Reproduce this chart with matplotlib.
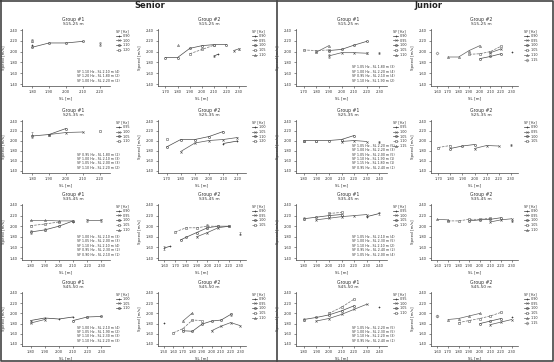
import matplotlib
matplotlib.use("Agg")
import matplotlib.pyplot as plt
import numpy as np
from matplotlib.lines import Line2D

# ---------------- data ----------------
YTICKS = [1.40, 1.60, 1.80, 2.00, 2.20, 2.40]
ROW_SUBS = ["S15-25 m", "S25-35 m", "S35-45 m", "S45-50 m"]

# Senior, row 1
S1_TITLE = "Group #1"
S1_XTICKS = [1.80, 1.90, 2.00, 2.10, 2.20]
S1_SF = ["0.90", "1.00", "1.10", "1.20"]
S1_X = [[1.80], [2.20], [1.80, 1.90, 2.00, 2.10], [1.80]]
S1_Y = [[2.12], [2.14], [2.08, 2.16, 2.16, 2.19], [2.20]]
S1_NOTES = ["SF 1.10 Hz - SL 2.10 m (4)", "SF 1.20 Hz - SL 1.80 m (2)", "SF 1.00 Hz - SL 2.20 m (2)"]
S1_ERR = [(1.80, 2.20, 0.03), (2.20, 2.14, 0.03)]

S2_TITLE = "Group #2"
S2_XTICKS = [1.70, 1.80, 1.90, 2.00, 2.10, 2.20, 2.30]
S2_SF = ["0.90", "0.95", "1.00", "1.05", "1.10"]
S2_X = [[2.10, 2.13], [2.26, 2.30], [1.70, 1.80, 1.90, 2.00, 2.10, 2.20], [1.90, 2.00, 2.10], [1.80]]
S2_Y = [[1.92, 1.95], [2.02, 2.05], [1.89, 1.89, 2.06, 2.11, 2.13, 2.13], [1.96, 2.04, 2.12], [2.13]]
S2_NOTES = []
S2_ERR = [(2.10, 1.92, 0.02), (2.30, 2.05, 0.02)]

# Senior, row 2
S3_TITLE = "Group #1"
S3_XTICKS = [1.80, 1.90, 2.00, 2.10, 2.20]
S3_SF = ["0.95", "1.00", "1.05", "1.10"]
S3_X = [[1.80], [1.90, 2.00, 2.10], [1.80, 1.90, 2.00], [2.20]]
S3_Y = [[2.12], [2.13, 2.17, 2.18], [2.10, 2.13, 2.25], [2.20]]
S3_NOTES = ["SF 0.95 Hz - SL 1.80 m (2)", "SF 1.00 Hz - SL 2.10 m (3)", "SF 1.05 Hz - SL 2.00 m (3)", "SF 1.10 Hz - SL 2.20 m (2)"]
S3_ERR = [(1.80, 2.12, 0.06)]

S4_TITLE = "Group #2"
S4_XTICKS = [1.70, 1.80, 1.90, 2.00, 2.10, 2.20]
S4_SF = ["1.00", "1.05", "1.10", "1.20"]
S4_X = [[2.10, 2.20], [1.80, 1.90, 2.00, 2.10, 2.20], [1.70, 1.80, 1.90, 2.00, 2.10], [1.70]]
S4_Y = [[1.95, 2.00], [1.79, 1.96, 2.01, 2.03, 2.07], [1.88, 2.03, 2.03, 2.09, 2.19], [2.04]]
S4_NOTES = []
S4_ERR = []

# Senior, row 3
S5_TITLE = "Group #1"
S5_XTICKS = [1.80, 1.90, 2.00, 2.10, 2.20, 2.30]
S5_SF = ["0.90", "0.95", "1.00", "1.05", "1.10"]
S5_X = [[2.10], [2.20, 2.30], [1.80, 1.90, 2.00, 2.10], [1.80, 1.90, 2.00], [1.80, 1.90, 2.00, 2.10]]
S5_Y = [[2.08], [2.11, 2.11], [1.89, 1.93, 2.00, 2.10], [2.01, 2.04, 2.08], [2.11, 2.11, 2.10, 2.10]]
S5_NOTES = ["SF 1.00 Hz - SL 2.10 m (3)", "SF 1.05 Hz - SL 2.00 m (3)", "SF 1.10 Hz - SL 2.10 m (4)",
            "SF 0.95 Hz - SL 2.30 m (2)", "SF 0.90 Hz - SL 2.10 m (1)"]
S5_ERR = [(1.80, 1.89, 0.04), (1.90, 1.93, 0.03), (2.20, 2.11, 0.03), (2.30, 2.11, 0.03)]

S6_TITLE = "Group #2"
S6_XTICKS = [1.60, 1.70, 1.80, 1.90, 2.00, 2.10, 2.20, 2.30]
S6_SF = ["0.90", "0.95", "1.00", "1.05"]
S6_X = [[1.60, 1.65, np.nan, 2.30], [1.90, 2.00, 2.10, 2.20], [1.75, 1.80, 1.90, 2.00, 2.10, 2.20],
        [1.70, 1.80, 1.90, 2.00, 2.10]]
S6_Y = [[1.59, 1.62, np.nan, 1.86], [1.80, 1.88, 1.97, 2.00], [1.74, 1.79, 1.88, 1.97, 2.00, 2.00],
        [1.89, 1.97, 1.97, 2.00, 2.00]]
S6_NOTES = []
S6_ERR = [(1.60, 1.59, 0.03), (2.00, 2.00, 0.05), (2.30, 1.86, 0.03)]

# Senior, row 4
S7_TITLE = "Group #1"
S7_XTICKS = [1.80, 1.90, 2.00, 2.10, 2.20, 2.30]
S7_SF = ["1.00", "1.05", "1.10"]
S7_X = [[1.80, 1.90, 2.00, 2.10], [1.80, 1.90], [2.10, 2.20, 2.30]]
S7_Y = [[1.86, 1.91, 1.89, 1.93], [1.81, 1.88], [1.86, 1.93, 1.94]]
S7_NOTES = ["SF 1.00 Hz - SL 2.10 m (4)", "SF 1.05 Hz - SL 1.90 m (2)", "SF 1.10 Hz - SL 2.30 m (3)",
            "SF 1.10 Hz - SL 2.20 m (3)"]
S7_ERR = [(1.80, 1.84, 0.03), (2.20, 1.93, 0.02)]

S8_TITLE = "Group #2"
S8_XTICKS = [1.50, 1.60, 1.70, 1.80, 1.90, 2.00, 2.10, 2.20, 2.30]
S8_SF = ["0.90", "0.95", "1.00", "1.05", "1.10"]
S8_X = [[1.50], [2.00, 2.10, 2.20, 2.30], [1.70, 1.80, 1.90, 2.00, 2.10, 2.20],
        [1.60, 1.70, 1.80, 1.90], [1.70, 1.80]]
S8_Y = [[1.81], [1.66, 1.75, 1.82, 1.76], [1.66, 1.65, 1.79, 1.85, 1.87, 1.98],
        [1.62, 1.70, 1.87, 1.86], [1.85, 2.01]]
S8_NOTES = []
S8_ERR = [(2.20, 1.98, 0.03)]

# Junior, row 1
J1_TITLE = "Group #1"
J1_XTICKS = [1.70, 1.80, 1.90, 2.00, 2.10, 2.20, 2.30]
J1_SF = ["0.90", "0.95", "1.00", "1.05", "1.10"]
J1_X = [[2.30], [1.90, 2.00, 2.10, 2.20], [1.90, 2.00, 2.10, 2.20], [1.70, 1.80, 1.90], [1.80, 1.90]]
J1_Y = [[1.98], [1.92, 1.98, 1.98, 1.97], [2.02, 2.04, 2.12, 2.19], [2.03, 2.02, 2.03], [1.99, 2.11]]
J1_NOTES = ["SF 1.05 Hz - SL 1.80 m (3)", "SF 1.00 Hz - SL 2.20 m (4)", "SF 0.95 Hz - SL 2.10 m (4)",
            "SF 1.10 Hz - SL 1.90 m (2)"]
J1_ERR = [(1.90, 1.92, 0.03), (2.20, 1.97, 0.02), (2.30, 1.98, 0.02)]

J2_TITLE = "Group #2"
J2_XTICKS = [1.60, 1.70, 1.80, 1.90, 2.00, 2.10, 2.20, 2.30]
J2_SF = ["0.90", "0.95", "1.00", "1.05", "1.10", "1.15"]
J2_X = [[2.30], [2.10, 2.20], [2.00, 2.10, 2.20], [1.90, 2.00, 2.10, 2.20], [1.70, 1.80, 1.90, 2.00], [1.60]]
J2_Y = [[2.00], [1.98, 2.05], [1.87, 1.91, 1.96], [1.95, 1.96, 2.00, 2.10], [1.90, 1.90, 2.02, 2.11], [1.97]]
J2_NOTES = []
J2_ERR = []

# Junior, row 2
J3_TITLE = "Group #1"
J3_XTICKS = [1.80, 1.90, 2.00, 2.10, 2.20, 2.30, 2.40]
J3_SF = ["0.95", "1.00", "1.05", "1.10", "1.15"]
J3_X = [[2.40], [2.10, 2.20, 2.30], [1.80, 1.90, 2.00, 2.10, 2.20], [1.90], [1.80]]
J3_Y = [[1.99], [1.99, 2.01, 1.99], [2.01, 2.01, 2.01, 2.03, 2.11], [2.00], [2.01]]
J3_NOTES = ["SF 1.05 Hz - SL 2.20 m (5)", "SF 1.00 Hz - SL 2.20 m (3)", "SF 1.05 Hz - SL 2.00 m (5)",
            "SF 1.10 Hz - SL 1.90 m (1)", "SF 1.15 Hz - SL 1.80 m (1)", "SF 0.95 Hz - SL 2.40 m (1)"]
J3_ERR = [(2.40, 1.99, 0.02)]

J4_TITLE = "Group #2"
J4_XTICKS = [1.70, 1.80, 1.90, 2.00, 2.10, 2.20, 2.30]
J4_SF = ["0.90", "0.95", "1.00", "1.05"]
J4_X = [[2.30], [2.00, 2.10, 2.20], [1.80, 1.90, 2.00], [1.70, 1.80]]
J4_Y = [[1.93], [1.85, 1.91, 1.90], [1.85, 1.90, 1.93], [1.87, 1.91]]
J4_NOTES = []
J4_ERR = [(2.30, 1.93, 0.02)]

# Junior, row 3
J5_TITLE = "Group #1"
J5_XTICKS = [1.80, 1.90, 2.00, 2.10, 2.20, 2.30, 2.40]
J5_SF = ["0.95", "1.00", "1.05", "1.10"]
J5_X = [[2.30, 2.40], [1.90, 2.00, 2.10, 2.20, 2.30], [1.80, 1.90, 2.00, 2.10], [2.00, 2.10]]
J5_Y = [[2.18, 2.24], [2.12, 2.15, 2.18, 2.20, 2.22], [2.14, 2.17, 2.20, 2.22], [2.24, 2.26]]
J5_NOTES = ["SF 1.05 Hz - SL 2.10 m (4)", "SF 1.00 Hz - SL 2.30 m (5)", "SF 1.10 Hz - SL 2.10 m (2)",
            "SF 0.95 Hz - SL 2.40 m (2)", "SF 1.05 Hz - SL 2.00 m (4)"]
J5_ERR = [(1.80, 2.14, 0.03), (2.40, 2.24, 0.03)]

J6_TITLE = "Group #2"
J6_XTICKS = [1.60, 1.70, 1.80, 1.90, 2.00, 2.10, 2.20, 2.30]
J6_SF = ["0.90", "0.95", "1.00", "1.05", "1.10"]
J6_X = [[2.30], [2.10, 2.20, 2.30], [1.90, 2.00, 2.10, 2.20], [1.70, 1.80, 1.90, 2.00, 2.10], [1.60, 1.70]]
J6_Y = [[2.10], [2.08, 2.12, 2.14], [2.10, 2.12, 2.13, 2.16], [2.10, 2.10, 2.13, 2.13, 2.15], [2.13, 2.12]]
J6_NOTES = []
J6_ERR = [(2.30, 2.10, 0.02)]

# Junior, row 4
J7_TITLE = "Group #1"
J7_XTICKS = [1.80, 1.90, 2.00, 2.10, 2.20, 2.30, 2.40]
J7_SF = ["0.95", "1.00", "1.05", "1.10"]
J7_X = [[2.40], [1.90, 2.00, 2.10, 2.20, 2.30], [1.80, 1.90, 2.00, 2.10, 2.20], [2.00, 2.10, 2.20]]
J7_Y = [[2.12], [1.85, 1.90, 1.98, 2.08, 2.18], [1.88, 1.92, 1.97, 2.05, 2.15], [2.00, 2.12, 2.28]]
J7_NOTES = ["SF 1.05 Hz - SL 2.20 m (5)", "SF 1.00 Hz - SL 2.30 m (5)", "SF 1.10 Hz - SL 2.20 m (3)",
            "SF 0.95 Hz - SL 2.40 m (1)"]
J7_ERR = [(1.80, 1.88, 0.03)]

J8_TITLE = "Group #2"
J8_XTICKS = [1.60, 1.70, 1.80, 1.90, 2.00, 2.10, 2.20, 2.30]
J8_SF = ["0.90", "0.95", "1.00", "1.05", "1.10", "1.15"]
J8_X = [[2.30], [2.10, 2.20, 2.30], [2.00, 2.10, 2.20], [1.80, 1.90, 2.00, 2.10, 2.20], [1.70, 1.80, 1.90, 2.00], [1.60]]
J8_Y = [[1.92], [1.78, 1.83, 1.88], [1.80, 1.85, 1.90], [1.82, 1.86, 1.90, 1.95, 2.02], [1.88, 1.90, 1.95, 2.00], [1.95]]
J8_NOTES = []
J8_ERR = [(1.60, 1.95, 0.02)]

# ---------------- layout ----------------
W, H = 554, 362
fig = plt.figure(figsize=(W / 100, H / 100), dpi=100)
fig.patch.set_facecolor("white")

COL_X = [(22, 110), (158, 246), (296, 387), (431, 518)]
ROW_Y = [(30, 84), (121, 171), (205, 258), (293, 344)]  # pixel y of 2.40 and 1.40 ticks

PANELS = [
    (0, 0, S1_TITLE, S1_XTICKS, S1_SF, S1_X, S1_Y, S1_NOTES, S1_ERR),
    (1, 0, S2_TITLE, S2_XTICKS, S2_SF, S2_X, S2_Y, S2_NOTES, S2_ERR),
    (0, 1, S3_TITLE, S3_XTICKS, S3_SF, S3_X, S3_Y, S3_NOTES, S3_ERR),
    (1, 1, S4_TITLE, S4_XTICKS, S4_SF, S4_X, S4_Y, S4_NOTES, S4_ERR),
    (0, 2, S5_TITLE, S5_XTICKS, S5_SF, S5_X, S5_Y, S5_NOTES, S5_ERR),
    (1, 2, S6_TITLE, S6_XTICKS, S6_SF, S6_X, S6_Y, S6_NOTES, S6_ERR),
    (0, 3, S7_TITLE, S7_XTICKS, S7_SF, S7_X, S7_Y, S7_NOTES, S7_ERR),
    (1, 3, S8_TITLE, S8_XTICKS, S8_SF, S8_X, S8_Y, S8_NOTES, S8_ERR),
    (2, 0, J1_TITLE, J1_XTICKS, J1_SF, J1_X, J1_Y, J1_NOTES, J1_ERR),
    (3, 0, J2_TITLE, J2_XTICKS, J2_SF, J2_X, J2_Y, J2_NOTES, J2_ERR),
    (2, 1, J3_TITLE, J3_XTICKS, J3_SF, J3_X, J3_Y, J3_NOTES, J3_ERR),
    (3, 1, J4_TITLE, J4_XTICKS, J4_SF, J4_X, J4_Y, J4_NOTES, J4_ERR),
    (2, 2, J5_TITLE, J5_XTICKS, J5_SF, J5_X, J5_Y, J5_NOTES, J5_ERR),
    (3, 2, J6_TITLE, J6_XTICKS, J6_SF, J6_X, J6_Y, J6_NOTES, J6_ERR),
    (2, 3, J7_TITLE, J7_XTICKS, J7_SF, J7_X, J7_Y, J7_NOTES, J7_ERR),
    (3, 3, J8_TITLE, J8_XTICKS, J8_SF, J8_X, J8_Y, J8_NOTES, J8_ERR),
]

YLO, YHI = 1.37, 2.42
MARKERS = ["+", "x", "o", "s", "^", "D"]
COLORS = ["#3c3c3c", "#5a5a5a", "#4a4a4a", "#707070", "#626262", "#808080"]
STYLES = ["-", "-", "-", "--", "-", "-."]
TXT = "#333333"

for col, row, title, xticks, sfs, xs, ys, notes, errs in PANELS:
    xl, xr = COL_X[col]
    y240, y140 = ROW_Y[row]
    ppu = y140 - y240
    top = y240 - (YHI - 2.40) * ppu
    bot = y140 + (1.40 - YLO) * ppu
    ax = fig.add_axes([xl / W, 1 - bot / H, (xr - xl) / W, (bot - top) / H])
    step = xticks[1] - xticks[0]
    ax.set_xlim(xticks[0] - 0.6 * step, xticks[-1] + 0.6 * step)
    ax.set_ylim(YLO, YHI)
    ax.set_xticks(xticks)
    ax.set_xticklabels([f"{v:.2f}" for v in xticks])
    ax.set_yticks(YTICKS)
    ax.set_yticklabels([f"{v:.2f}" for v in YTICKS])
    for s in ["top", "right"]:
        ax.spines[s].set_visible(False)
    for s in ["left", "bottom"]:
        ax.spines[s].set_linewidth(0.5)
        ax.spines[s].set_color("#444444")
    ax.tick_params(labelsize=2.6, length=1.5, width=0.4, pad=1.5, colors=TXT)
    ax.set_xlabel("SL [m]", fontsize=2.9, labelpad=2, color=TXT)
    ax.set_ylabel("Speed [m/s]", fontsize=2.9, labelpad=2.5, color=TXT)

    handles = []
    for i, (sf, xv, yv) in enumerate(zip(sfs, xs, ys)):
        ln, = ax.plot(xv, yv, color=COLORS[i % 6], ls=STYLES[i % 6], lw=0.5,
                      marker=MARKERS[i % 6], ms=1.5, mew=0.45, mfc="none", label=sf)
        handles.append(ln)
    for (ex, ey, ee) in errs:
        ax.errorbar([ex], [ey], yerr=[ee], fmt="none", ecolor="#777777", elinewidth=0.4,
                    capsize=1.0, capthick=0.4)

    axw = xr - xl
    leg = ax.legend(handles=handles, title="SF [Hz]", loc="upper left",
                    bbox_to_anchor=(1 + 6 / axw, 1.0), fontsize=2.4, title_fontsize=2.5,
                    frameon=False, handlelength=1.6, handletextpad=0.4, labelspacing=0.25,
                    borderpad=0, borderaxespad=0)
    leg._legend_box.align = "left"
    for t in leg.get_texts():
        t.set_color(TXT)
    leg.get_title().set_color(TXT)

    if notes:
        ax.text(0.62, 0.05, "\n".join(notes), transform=ax.transAxes, fontsize=2.3,
                ha="left", va="bottom", linespacing=1.15, color=TXT)

    cx = (xl + xr) / 2 + 7
    fig.text(cx / W, 1 - (top - 9.5) / H, title, fontsize=3.3, ha="center", va="center", color=TXT)
    fig.text(cx / W, 1 - (top - 5) / H, ROW_SUBS[row], fontsize=3.1, ha="center", va="center", color=TXT)

# Section headings
fig.text(150 / W, 1 - 6 / H, "Senior", fontsize=6, fontweight="bold", ha="center", va="center", color="#222222")
fig.text(428 / W, 1 - 6 / H, "Junior", fontsize=6, fontweight="bold", ha="center", va="center", color="#222222")

# Frame and divider
bc = "#444444"
fig.add_artist(Line2D([0.002, 0.998, 0.998, 0.002, 0.002], [0.997, 0.997, 0.003, 0.003, 0.997],
                      transform=fig.transFigure, color=bc, lw=1.2))
fig.add_artist(Line2D([277 / W, 277 / W], [0.003, 0.997], transform=fig.transFigure, color=bc, lw=1.2))

fig.savefig("out.png", dpi=100, facecolor="white")
